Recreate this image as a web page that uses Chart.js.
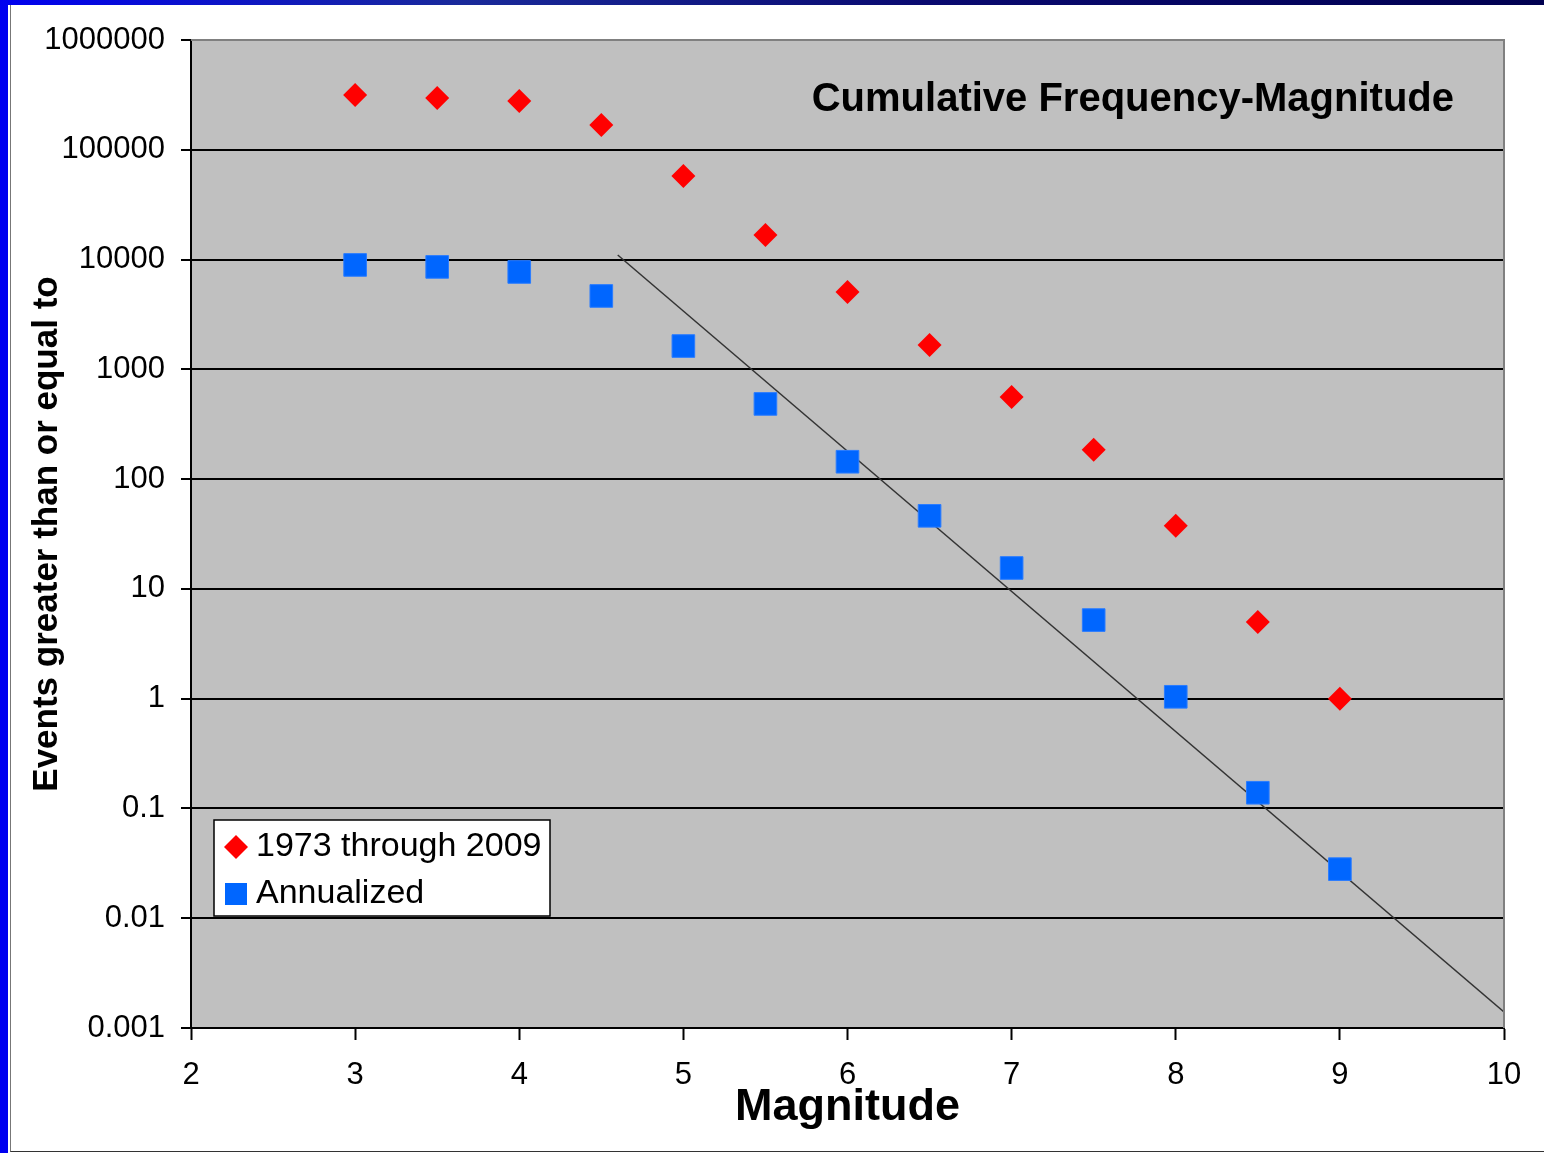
<!DOCTYPE html>
<html lang="en">
<head>
    <meta charset="UTF-8">
    <title>Cumulative Frequency-Magnitude</title>
    <script src="https://cdn.jsdelivr.net/npm/chart.js"></script>
    <style>
        body {
            margin: 0;
            padding: 0;
            background-color: white;
            width: 1544px;
            height: 1153px;
            overflow: hidden;
            position: relative;
            font-family: "Liberation Sans", Arial, sans-serif;
        }
        .frame-left {
            position: absolute;
            left: 0; top: 0;
            width: 8px; height: 1153px;
            background-color: #0000f0;
        }
        .frame-top {
            position: absolute;
            left: 0; top: 0;
            width: 1544px; height: 5px;
            background: linear-gradient(to right, #0000f0 0%, #1a2a9a 30%, #0a0a70 60%, #000050 100%);
        }
        .frame-inner {
            position: absolute;
            left: 10px; top: 5px;
            width: 1540px; height: 1146px;
            border-left: 1px solid #777;
            border-bottom: 1px solid #333;
        }
        #chart {
            position: absolute;
            left: 0; top: 0;
        }
    </style>
</head>
<body>
    <div class="frame-inner"></div>
    <div class="frame-left"></div>
    <div class="frame-top"></div>
    <canvas id="chart" width="1544" height="1153"></canvas>

    <script>
        // values
        const magnitudes = [3, 3.5, 4, 4.5, 5, 5.5, 6, 6.5, 7, 7.5, 8, 8.5, 9];
        const totalEvents = [315000, 296000, 278000, 168000, 57700, 16700, 5070, 1670, 561, 185, 37.5, 5.0, 1.0];
        const annualized = [8930, 8570, 7710, 4660, 1630, 484, 144, 46.3, 15.5, 5.2, 1.04, 0.139, 0.028];
        // straight trend line (log scale)
        const fitMagnitudes = [4.6, 10];
        const fitValues = [11000, 0.0014];

        const yTicks = [0.001, 0.01, 0.1, 1, 10, 100, 1000, 10000, 100000, 1000000];
        const xTicks = [2, 3, 4, 5, 6, 7, 8, 9, 10];

        const seriesNames = ['1973 through 2009', 'Annualized'];
        const chartTitle = 'Cumulative Frequency-Magnitude';

        const FONT = '"Liberation Sans", Arial, sans-serif';

        function toPoints(xs, ys) {
            return xs.map((x, i) => ({ x: x, y: ys[i] }));
        }

        // gray plot background + gray top/right border
        const plotBackground = {
            id: 'plotBackground',
            beforeDraw(chart) {
                const ctx = chart.ctx;
                const a = chart.chartArea;
                ctx.save();
                ctx.fillStyle = '#c0c0c0';
                ctx.fillRect(a.left, a.top, a.right - a.left, a.bottom - a.top);
                ctx.restore();
            },
            afterDraw(chart) {
                const ctx = chart.ctx;
                const a = chart.chartArea;
                ctx.save();
                ctx.strokeStyle = '#808080';
                ctx.lineWidth = 2;
                ctx.beginPath();
                ctx.moveTo(a.left, a.top);
                ctx.lineTo(a.right, a.top);
                ctx.lineTo(a.right, a.bottom);
                ctx.stroke();
                ctx.restore();
            }
        };

        // title inside the plot and the boxed legend
        const overlay = {
            id: 'overlay',
            afterDatasetsDraw(chart) {
                const ctx = chart.ctx;
                const a = chart.chartArea;
                ctx.save();

                ctx.fillStyle = '#000';
                ctx.font = 'bold 40px ' + FONT;
                ctx.textAlign = 'right';
                ctx.textBaseline = 'middle';
                ctx.fillText(chartTitle, a.right - 50, a.top + 60);

                // legend box
                const bx = a.left + 23, by = a.bottom - 208, bw = 336, bh = 96;
                ctx.fillStyle = '#fff';
                ctx.fillRect(bx, by, bw, bh);
                ctx.strokeStyle = '#000';
                ctx.lineWidth = 1.5;
                ctx.strokeRect(bx, by, bw, bh);

                const ds = chart.data.datasets;
                // diamond
                const dx = bx + 22, dy = by + 27;
                ctx.fillStyle = ds[0].backgroundColor;
                ctx.beginPath();
                ctx.moveTo(dx - 12, dy);
                ctx.lineTo(dx, dy - 12);
                ctx.lineTo(dx + 12, dy);
                ctx.lineTo(dx, dy + 12);
                ctx.closePath();
                ctx.fill();
                // square
                const sx = bx + 22, sy = by + 74;
                ctx.fillStyle = ds[1].backgroundColor;
                ctx.fillRect(sx - 11, sy - 11, 22, 22);

                ctx.fillStyle = '#000';
                ctx.font = '34px ' + FONT;
                ctx.textAlign = 'left';
                ctx.fillText(ds[0].label, bx + 42, dy);
                ctx.fillText(ds[1].label, bx + 42, sy);
                ctx.restore();
            }
        };

        new Chart(document.getElementById('chart'), {
            type: 'scatter',
            data: {
                datasets: [
                    {
                        label: seriesNames[0],
                        data: toPoints(magnitudes, totalEvents),
                        pointStyle: 'rectRot',
                        pointRadius: 12,
                        backgroundColor: '#ff0000',
                        borderColor: '#ff0000',
                        borderWidth: 0
                    },
                    {
                        label: seriesNames[1],
                        data: toPoints(magnitudes, annualized),
                        pointStyle: 'rect',
                        pointRadius: 16,
                        backgroundColor: '#0066ff',
                        borderColor: '#2a7cff',
                        borderWidth: 1
                    },
                    {
                        label: 'fit',
                        type: 'line',
                        data: toPoints(fitMagnitudes, fitValues),
                        borderColor: '#333333',
                        borderWidth: 1.5,
                        pointRadius: 0,
                        fill: false
                    }
                ]
            },
            options: {
                responsive: false,
                animation: false,
                layout: {
                    padding: { left: 0, top: 40, right: 40, bottom: 0 }
                },
                plugins: {
                    legend: { display: false },
                    tooltip: { enabled: false }
                },
                scales: {
                    x: {
                        type: 'linear',
                        min: 2,
                        max: 10,
                        afterBuildTicks: function(scale) {
                            scale.ticks = xTicks.map(v => ({ value: v }));
                        },
                        afterFit: function(scale) {
                            scale.height = 125;
                        },
                        grid: {
                            drawOnChartArea: false,
                            drawTicks: true,
                            tickLength: 12,
                            tickColor: '#000',
                            tickWidth: 2
                        },
                        border: { display: true, color: '#000', width: 2 },
                        ticks: {
                            color: '#000',
                            padding: 17,
                            maxRotation: 0,
                            font: { family: FONT, size: 31 }
                        },
                        title: {
                            display: true,
                            text: 'Magnitude',
                            color: '#000',
                            padding: { top: 0, bottom: 18 },
                            font: { family: FONT, size: 45, weight: 'bold' }
                        }
                    },
                    y: {
                        type: 'logarithmic',
                        min: 0.001,
                        max: 1000000,
                        afterBuildTicks: function(scale) {
                            scale.ticks = yTicks.map(v => ({ value: v }));
                        },
                        afterFit: function(scale) {
                            scale.width = 191;
                        },
                        grid: {
                            color: function(ctx) {
                                return ctx.tick && ctx.tick.value === 1000000 ? '#808080' : '#000';
                            },
                            lineWidth: 2,
                            tickLength: 10,
                            tickColor: '#000',
                            tickWidth: 2
                        },
                        border: { display: true, color: '#000', width: 2 },
                        ticks: {
                            color: '#000',
                            padding: 16,
                            font: { family: FONT, size: 31 },
                            callback: function(value) {
                                return String(value);
                            }
                        },
                        title: {
                            display: true,
                            text: 'Events greater than or equal to',
                            color: '#000',
                            padding: { top: 26, bottom: 0 },
                            font: { family: FONT, size: 35, weight: 'bold' }
                        }
                    }
                }
            },
            plugins: [plotBackground, overlay]
        });
    </script>
</body>
</html>
